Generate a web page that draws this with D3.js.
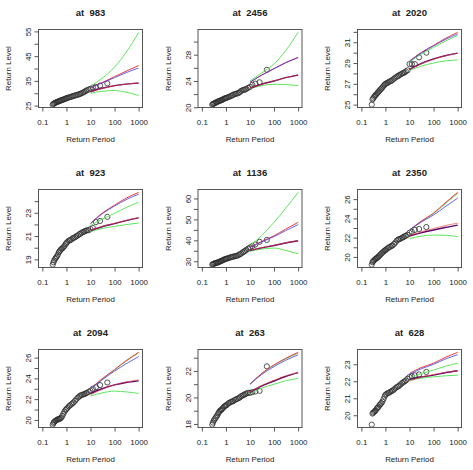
<!DOCTYPE html>
<html>
<head>
<meta charset="utf-8">
<script src="https://cdn.jsdelivr.net/npm/d3@7"></script>
<style>
  body { margin: 0; background: #fff; }
  svg { display: block; font-family: "Liberation Sans", Arial, sans-serif; }
</style>
</head>
<body>
<div id="chart"></div>
<script>
// station ids, one panel each
var stations = ["983", "2456", "2020", "923", "1136", "2350", "2094", "263", "628"];

// return periods of the observed points (years)
var periods = [0.27, 0.29, 0.31, 0.34, 0.37, 0.4, 0.44, 0.48, 0.52, 0.57,
  0.62, 0.68, 0.75, 0.83, 0.92, 1.0, 1.1, 1.25, 1.4, 1.6,
  1.8, 2.0, 2.3, 2.6, 3.0, 3.4, 3.8, 4.3, 5.0, 5.6,
  6.3, 7.1, 8.3, 10, 12.5, 16.7, 25, 50];

// observed return levels per station
var obsLevels = [
  [25.4,25.7,25.9,26.1,26.3, 26.4,26.6,26.7,26.9,27.0, 27.2,27.3,27.5,27.6,27.8, 28.0,28.1,28.3,28.4,28.6, 28.8,28.9,29.1,29.3,29.4, 29.6,29.8,30.0,30.3,30.6, 30.9,31.2,31.5,31.8,32.3, 32.6,33.1,34.0],
  [20.4,20.5,20.55,20.6,20.7, 20.75,20.8,20.9,20.95,21.0, 21.05,21.1,21.2,21.3,21.35, 21.4,21.45,21.55,21.6,21.7, 21.8,21.9,22.0,22.05,22.1, 22.2,22.3,22.5,22.6,22.65, 22.7,22.8,22.95,23.1,23.4, 23.6,23.8,25.7],
  [25.0,25.5,25.6,25.75,25.85, 25.95,26.05,26.15,26.25,26.35, 26.45,26.55,26.65,26.8,26.9, 27.0,27.05,27.1,27.2,27.25, 27.3,27.4,27.5,27.6,27.7, 27.75,27.85,27.9,28.0,28.05, 28.1,28.2,28.3,28.9,28.9, 28.9,29.55,30.0],
  [18.55,18.75,18.9,19.05,19.15, 19.25,19.4,19.6,19.7,19.8, 19.9,19.95,20.05,20.15,20.3, 20.4,20.5,20.6,20.65,20.7, 20.8,20.85,20.9,21.0,21.05, 21.15,21.2,21.3,21.35,21.4, 21.45,21.5,21.5,21.6,21.7, 22.2,22.3,22.65],
  [28.4,28.6,28.8,29.0,29.1, 29.2,29.4,29.5,29.7,29.9, 30.1,30.3,30.5,30.8,31.0, 31.1,31.3,31.5,31.7,31.9, 32.1,32.2,32.4,32.5,32.7, 33.0,33.3,33.7,34.2,34.6, 35.0,35.5,36.0,36.6,37.3, 38.0,39.3,40.2],
  [19.2,19.45,19.55,19.65,19.75, 19.8,19.9,19.95,20.05,20.15, 20.25,20.35,20.45,20.55,20.65, 20.7,20.8,20.9,21.0,21.05, 21.15,21.2,21.35,21.5,21.7, 21.8,21.85,21.9,22.0,22.05, 22.15,22.2,22.3,22.5,22.6, 22.8,22.9,23.1],
  [19.55,19.7,19.8,19.9,19.95, 20.0,20.05,20.1,20.1,20.15, 20.25,20.4,20.6,20.8,20.95, 21.05,21.15,21.3,21.4,21.5, 21.6,21.7,21.85,22.0,22.15, 22.25,22.35,22.4,22.45,22.5, 22.55,22.6,22.7,22.8,23.0, 23.15,23.35,23.6],
  [17.95,18.1,18.25,18.35,18.45, 18.55,18.65,18.8,18.9,19.0, 19.05,19.1,19.2,19.3,19.35, 19.4,19.45,19.55,19.6,19.65, 19.7,19.72,19.8,19.85,19.9, 19.95,20.0,20.1,20.15,20.2, 20.25,20.3,20.35,20.35,20.4, 20.45,20.5,22.35],
  [19.45,20.1,20.15,20.2,20.25, 20.3,20.4,20.45,20.5,20.6, 20.65,20.72,20.8,20.95,21.1, 21.2,21.25,21.3,21.32,21.38, 21.42,21.46,21.52,21.6,21.66, 21.7,21.75,21.82,21.9,21.95, 22.0,22.05,22.15,22.25,22.3, 22.35,22.4,22.55]
];

// return periods where the fitted curves are given
var fitPeriods = [10, 30, 100, 300, 1000];

var redUpper = [
  [32.3, 34.3, 36.7, 38.9, 41.2],
  [23.8, 24.9, 25.9, 26.8, 27.6],
  [29.2, 30.0, 30.7, 31.35, 31.95],
  [22.1, 22.95, 23.65, 24.25, 24.75],
  [36.8, 39.4, 42.2, 45.3, 48.6],
  [22.8, 23.7, 24.55, 25.6, 26.7],
  [23.0, 23.95, 24.85, 25.7, 26.5],
  [21.0, 21.8, 22.46, 22.95, 23.4],
  [22.46, 22.8, 23.06, 23.4, 23.7]
];
var blueUpper = [
  [32.3, 34.1, 36.3, 38.3, 40.2],
  [23.8, 24.85, 25.85, 26.75, 27.55],
  [29.15, 29.95, 30.65, 31.25, 31.8],
  [22.05, 22.9, 23.58, 24.12, 24.6],
  [36.7, 39.2, 41.8, 44.6, 47.5],
  [22.8, 23.6, 24.35, 25.2, 26.1],
  [23.0, 23.85, 24.7, 25.4, 26.1],
  [21.0, 21.72, 22.33, 22.8, 23.22],
  [22.4, 22.73, 23.0, 23.3, 23.56]
];
var greenUpper = [
  [32.8, 36.0, 40.6, 46.5, 54.6],
  [24.0, 25.2, 26.6, 28.6, 31.4],
  [29.1, 29.85, 30.5, 31.1, 31.65],
  [21.9, 22.45, 22.95, 23.45, 23.9],
  [37.5, 42.2, 48.6, 55.2, 62.9],
  [22.75, 23.65, 24.5, 25.5, 26.6],
  [23.0, 23.9, 24.8, 25.65, 26.45],
  [21.0, 21.78, 22.43, 22.9, 23.35],
  [22.16, 22.45, 22.66, 22.88, 23.06]
];
var purpleLower = [
  [30.6, 32.0, 33.1, 33.7, 34.1],
  [22.9, 23.5, 24.0, 24.5, 24.9],
  [28.4, 28.95, 29.4, 29.7, 29.95],
  [21.48, 21.8, 22.07, 22.33, 22.56],
  [35.1, 36.4, 37.5, 38.7, 39.8],
  [22.15, 22.5, 22.8, 23.05, 23.3],
  [22.55, 23.0, 23.37, 23.6, 23.76],
  [20.37, 20.85, 21.24, 21.58, 21.87],
  [22.12, 22.25, 22.36, 22.5, 22.62]
];
var redLower = [
  [30.5, 31.9, 33.0, 33.7, 34.2],
  [22.95, 23.5, 24.0, 24.5, 24.95],
  [28.35, 28.9, 29.35, 29.7, 29.95],
  [21.5, 21.82, 22.1, 22.35, 22.58],
  [35.2, 36.5, 37.6, 38.8, 39.9],
  [22.2, 22.6, 22.95, 23.25, 23.5],
  [22.4, 22.95, 23.37, 23.65, 23.86],
  [20.4, 20.9, 21.3, 21.62, 21.9],
  [22.0, 22.25, 22.4, 22.52, 22.62]
];
var greenLower = [
  [30.0, 30.8, 31.1, 30.4, 29.1],
  [22.8, 23.3, 23.5, 23.45, 23.3],
  [28.3, 28.7, 29.0, 29.2, 29.3],
  [21.4, 21.65, 21.83, 21.98, 22.12],
  [34.8, 35.8, 36.3, 35.2, 33.5],
  [21.9, 22.15, 22.27, 22.25, 22.1],
  [22.3, 22.6, 22.77, 22.7, 22.55],
  [20.3, 20.7, 21.0, 21.25, 21.44],
  [22.06, 22.18, 22.26, 22.32, 22.36]
];

// axis ticks
var xTicks = [0.1, 1, 10, 100, 1000];
var xTickLabels = ["0.1", "1", "10", "100", "1000"];
var yTicks = [
  [25, 30, 35, 40, 45, 50, 55],
  [20, 22, 24, 26, 28, 30],
  [25, 26, 27, 28, 29, 30, 31, 32],
  [19, 20, 21, 22, 23, 24],
  [30, 35, 40, 45, 50, 55, 60],
  [20, 21, 22, 23, 24, 25, 26],
  [20, 21, 22, 23, 24, 25, 26],
  [18, 19, 20, 21, 22, 23],
  [20, 21, 22, 23]
];
var yTickLabels = [
  [25, 35, 45, 55],
  [20, 24, 28],
  [25, 27, 29, 31],
  [19, 21, 23],
  [30, 40, 50, 60],
  [20, 22, 24, 26],
  [20, 22, 24, 26],
  [18, 20, 22],
  [20, 21, 22, 23]
];

// layout
var svgWidth = 473, svgHeight = 470;
var colStep = 159.5, rowStep = 160;
var plot = { left: 38.5, right: 142.5, top: 29.5, bottom: 107.5 };
var textSize = 7.9;

var svg = d3.select("#chart").append("svg")
  .attr("width", svgWidth)
  .attr("height", svgHeight);

// log x scale, padded 4% each side like R
var x = d3.scaleLog()
  .domain([Math.pow(10, -1.16), Math.pow(10, 3.16)])
  .range([plot.left, plot.right]);

var lineGen = d3.line()
  .x(d => x(d[0]))
  .curve(d3.curveMonotoneX);

// the fitted curves, drawn in this order
var curves = [
  { data: greenUpper, color: "#5ee65e", width: 1 },
  { data: greenLower, color: "#5ee65e", width: 1 },
  { data: redUpper, color: "#f23a3a", width: 1 },
  { data: blueUpper, color: "#3434ee", width: 1, opacity: 0.75 },
  { data: purpleLower, color: "#5a0a6a", width: 1.4 },
  { data: redLower, color: "#e83a3a", width: 0.9, opacity: 0.7 }
];

stations.forEach(function(st, i) {
  var col = i % 3, row = Math.floor(i / 3);
  var g = svg.append("g")
    .attr("transform", `translate(${col * colStep}, ${row * rowStep})`);

  var allVals = obsLevels[i].concat(redUpper[i], blueUpper[i], greenUpper[i],
    purpleLower[i], redLower[i], greenLower[i]);
  var ext = d3.extent(allVals);
  var pad = (ext[1] - ext[0]) * 0.04;
  var y = d3.scaleLinear()
    .domain([ext[0] - pad, ext[1] + pad])
    .range([plot.bottom, plot.top]);

  // points
  g.selectAll("circle")
    .data(periods.map((p, j) => [p, obsLevels[i][j]]))
    .enter()
    .append("circle")
    .attr("cx", d => x(d[0]))
    .attr("cy", d => y(d[1]))
    .attr("r", 2.6)
    .attr("fill", "none")
    .attr("stroke", "#2a2a2a")
    .attr("stroke-width", 0.8);

  // fitted curves
  curves.forEach(function(c) {
    var pts = fitPeriods.map((p, j) => [p, c.data[i][j]]);
    g.append("path")
      .attr("d", lineGen.y(d => y(d[1]))(pts))
      .attr("fill", "none")
      .attr("stroke", c.color)
      .attr("stroke-width", c.width)
      .attr("stroke-opacity", c.opacity || 1);
  });

  // box
  g.append("rect")
    .attr("x", plot.left)
    .attr("y", plot.top)
    .attr("width", plot.right - plot.left)
    .attr("height", plot.bottom - plot.top)
    .attr("fill", "none")
    .attr("stroke", "#555");

  // x axis
  var xAxis = g.append("g")
    .attr("transform", `translate(0, ${plot.bottom})`)
    .call(d3.axisBottom(x).tickValues(xTicks)
      .tickFormat((d, j) => xTickLabels[j])
      .tickSize(4).tickSizeOuter(0));
  xAxis.select(".domain").remove();
  xAxis.selectAll("line").attr("stroke", "#555");
  xAxis.selectAll("text")
    .attr("y", 12.3)
    .attr("dy", "0.71em")
    .attr("fill", "#222")
    .style("font-family", "'Liberation Sans', Arial, sans-serif")
    .style("font-size", textSize + "px");

  // y axis, labels turned like R's default
  var labels = yTickLabels[i];
  var yAxis = g.append("g")
    .attr("transform", `translate(${plot.left}, 0)`)
    .call(d3.axisLeft(y).tickValues(yTicks[i])
      .tickFormat(d => labels.indexOf(d) >= 0 ? d : "")
      .tickSize(4).tickSizeOuter(0));
  yAxis.select(".domain").remove();
  yAxis.selectAll("line").attr("stroke", "#555");
  yAxis.selectAll("text")
    .attr("transform", "rotate(-90)")
    .attr("x", 0)
    .attr("y", -7.5)
    .attr("dy", null)
    .attr("text-anchor", "middle")
    .attr("fill", "#222")
    .style("font-family", "'Liberation Sans', Arial, sans-serif")
    .style("font-size", textSize + "px");

  // titles
  var cx = (plot.left + plot.right) / 2;
  g.append("text")
    .attr("x", cx)
    .attr("y", 16)
    .attr("text-anchor", "middle")
    .style("white-space", "pre")
    .style("font-weight", "bold")
    .style("font-size", "9.5px")
    .attr("fill", "#222")
    .text("at  " + st);

  g.append("text")
    .attr("x", cx)
    .attr("y", 142)
    .attr("text-anchor", "middle")
    .style("font-size", textSize + "px")
    .attr("fill", "#222")
    .text("Return Period");

  g.append("text")
    .attr("transform", `translate(11, ${(plot.top + plot.bottom) / 2}) rotate(-90)`)
    .attr("text-anchor", "middle")
    .style("font-size", textSize + "px")
    .attr("fill", "#222")
    .text("Return Level");
});
</script>
</body>
</html>
